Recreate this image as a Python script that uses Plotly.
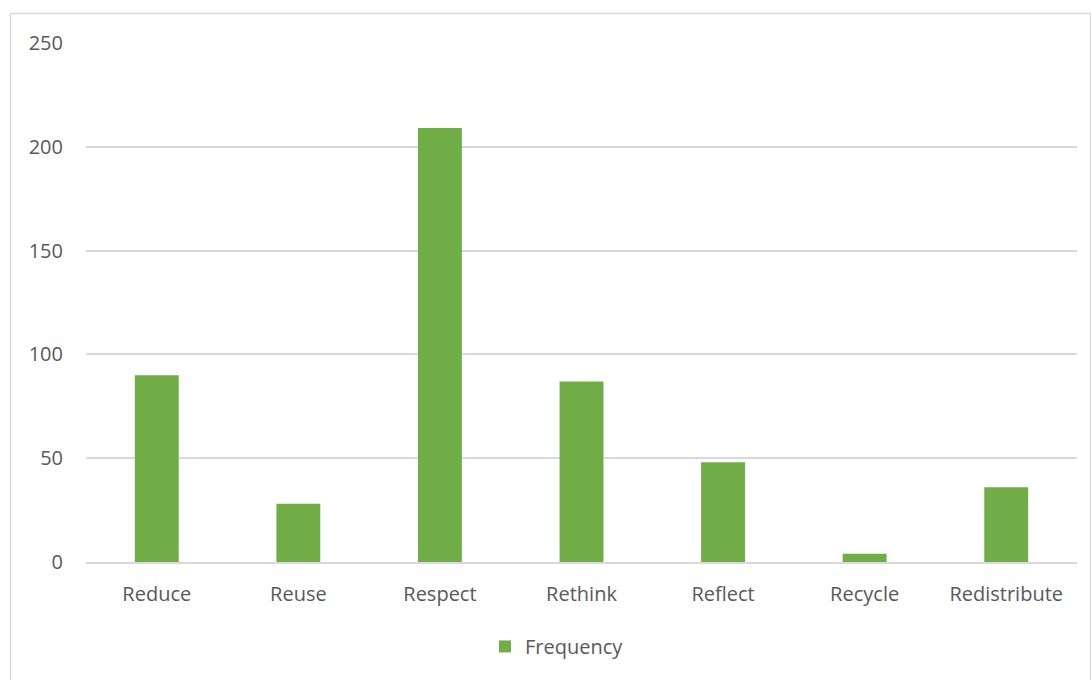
import plotly.graph_objects as go

categories = ["Reduce", "Reuse", "Respect", "Rethink", "Reflect", "Recycle", "Redistribute"]
frequency = [90, 28, 209, 87, 48, 4, 36]
y_ticks = [0, 50, 100, 150, 200, 250]

W, H = 1091, 680
L, R, T, B = 86, 14, 43, 117.5
pw, ph = W - L - R, H - T - B


def px_x(x):
    return (x - L) / pw


def px_y(y):
    return (H - B - y) / ph


fig = go.Figure()
fig.add_trace(go.Bar(
    x=categories,
    y=frequency,
    name="Frequency",
    marker=dict(color="#70AD47", line=dict(width=0)),
    showlegend=True,
))

font = dict(family="Open Sans, Calibri, sans-serif", size=20, color="#595959")

fig.update_layout(
    width=W,
    height=H,
    margin=dict(l=L, r=R, t=T, b=B),
    paper_bgcolor="white",
    plot_bgcolor="white",
    bargap=0.69,
    font=font,
    showlegend=True,
    legend=dict(
        orientation="h",
        x=px_x(557),
        xanchor="center",
        y=px_y(647),
        yanchor="middle",
        font=font,
        itemwidth=30,
        bgcolor="rgba(0,0,0,0)",
    ),
    xaxis=dict(
        showgrid=False,
        showline=True,
        linecolor="#d9d9d9",
        linewidth=1.5,
        ticks="",
        tickfont=font,
        ticklabelstandoff=13,
    ),
    yaxis=dict(
        range=[0, 250],
        tickvals=y_ticks,
        showgrid=True,
        gridcolor="#d9d9d9",
        gridwidth=1.5,
        zeroline=False,
        showline=False,
        ticks="",
        tickfont=font,
        ticklabelstandoff=22,
    ),
    shapes=[
        dict(
            type="rect",
            xref="paper",
            yref="paper",
            x0=px_x(10.5),
            x1=px_x(1090.5),
            y0=px_y(700),
            y1=px_y(13.5),
            line=dict(color="#d9d9d9", width=1.5),
            fillcolor="rgba(0,0,0,0)",
            layer="below",
        )
    ],
)

fig.write_html("out.html")
